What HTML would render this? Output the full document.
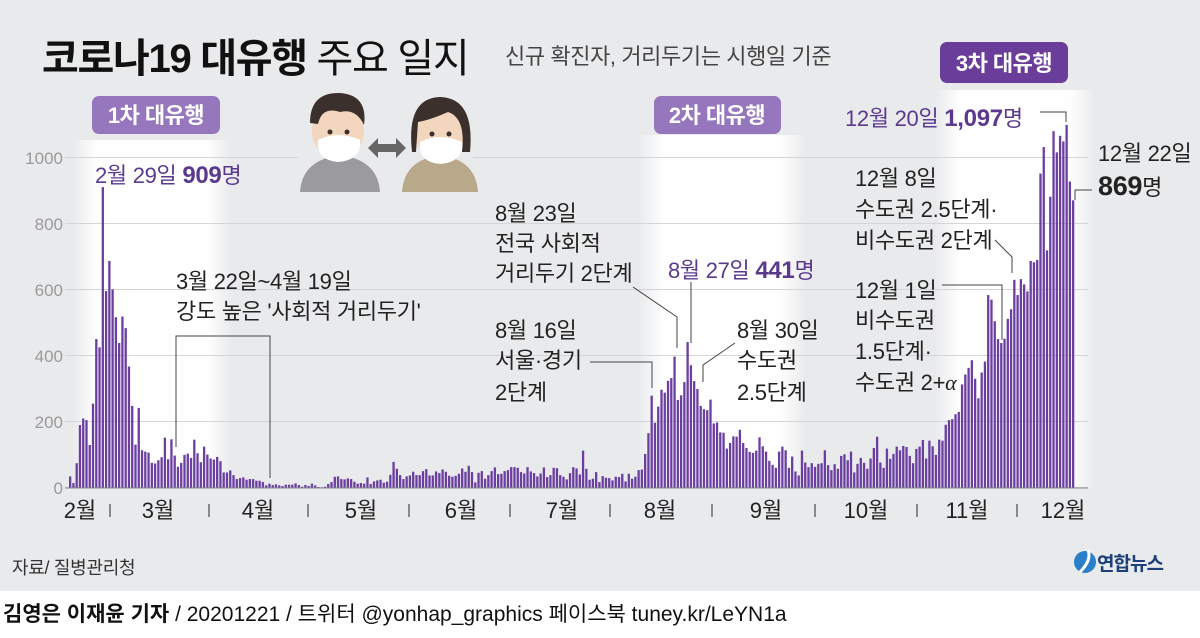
<!DOCTYPE html>
<html><head><meta charset="utf-8">
<style>
html,body{margin:0;padding:0;}
body{width:1200px;height:633px;overflow:hidden;background:#fff;font-family:"Liberation Sans","Noto Sans CJK KR",sans-serif;}
svg text{font-family:"Liberation Sans","Noto Sans CJK KR",sans-serif;}
</style></head><body>
<svg id="c" width="1200" height="633" viewBox="0 0 1200 633" xmlns="http://www.w3.org/2000/svg">
<defs>
<linearGradient id="hb" x1="0" x2="1" y1="0" y2="0">
<stop offset="0" stop-color="#fff" stop-opacity="0"/>
<stop offset="0.15" stop-color="#fff" stop-opacity="1"/>
<stop offset="0.85" stop-color="#fff" stop-opacity="1"/>
<stop offset="1" stop-color="#fff" stop-opacity="0"/>
</linearGradient>
</defs>
<rect x="0" y="0" width="1200" height="591" fill="#e9eaec"/>
<rect x="0" y="591" width="1200" height="42" fill="#fff"/>
<rect x="72" y="140" width="160" height="348" fill="url(#hb)" opacity="0.95"/>
<rect x="638" y="135" width="168" height="353" fill="url(#hb)" opacity="0.95"/>
<rect x="935" y="90" width="160" height="398" fill="url(#hb)" opacity="0.95"/>
<g stroke="#d4d5d8" stroke-width="1">
<line x1="65" x2="1088" y1="157.5" y2="157.5"/>
<line x1="65" x2="1088" y1="223.5" y2="223.5"/>
<line x1="65" x2="1088" y1="289.5" y2="289.5"/>
<line x1="65" x2="1088" y1="355.5" y2="355.5"/>
<line x1="65" x2="1088" y1="421.5" y2="421.5"/>
<line x1="65" x2="1088" y1="487.5" y2="487.5"/>
</g>
<g fill="#9a9a9a" font-size="17" text-anchor="end">
<text x="63" y="164">1000</text><text x="63" y="230">800</text><text x="63" y="296">600</text>
<text x="63" y="362">400</text><text x="63" y="428">200</text><text x="63" y="494">0</text>
</g>
<g id="bars" fill="#6b3fa0"></g>
<line x1="65" x2="1088" y1="488" y2="488" stroke="#888" stroke-width="1"/>
<g fill="#222" font-size="22" text-anchor="middle">
<text x="80" y="518">2월</text><text x="158" y="518">3월</text><text x="258" y="518">4월</text>
<text x="361" y="518">5월</text><text x="461" y="518">6월</text><text x="562" y="518">7월</text>
<text x="660" y="518">8월</text><text x="766" y="518">9월</text><text x="866" y="518">10월</text>
<text x="967" y="518">11월</text><text x="1063" y="518">12월</text>
</g>
<g stroke="#555" stroke-width="1.3">
<line x1="110" x2="110" y1="504" y2="517"/><line x1="209" x2="209" y1="504" y2="517"/>
<line x1="308" x2="308" y1="504" y2="517"/><line x1="409" x2="409" y1="504" y2="517"/>
<line x1="510" x2="510" y1="504" y2="517"/><line x1="610" x2="610" y1="504" y2="517"/>
<line x1="712" x2="712" y1="504" y2="517"/><line x1="815" x2="815" y1="504" y2="517"/>
<line x1="917" x2="917" y1="504" y2="517"/><line x1="1017" x2="1017" y1="504" y2="517"/>
</g>
<text x="42" y="72" font-size="40" fill="#111" letter-spacing="-1.3"><tspan font-weight="bold">코로나19 대유행</tspan> 주요 일지</text>
<text x="505" y="64" font-size="22" fill="#444" letter-spacing="-0.4">신규 확진자, 거리두기는 시행일 기준</text>
<rect x="92" y="96" width="128" height="38" rx="7" fill="#9676bd"/>
<text x="156" y="123" font-size="22" fill="#fff" text-anchor="middle" font-weight="bold" letter-spacing="-0.5">1차 대유행</text>
<rect x="654" y="96" width="127" height="38" rx="7" fill="#9676bd"/>
<text x="717" y="123" font-size="22" fill="#fff" text-anchor="middle" font-weight="bold" letter-spacing="-0.5">2차 대유행</text>
<rect x="940" y="42" width="128" height="41" rx="7" fill="#6a3d9a"/>
<text x="1004" y="71" font-size="22" fill="#fff" text-anchor="middle" font-weight="bold" letter-spacing="-0.5">3차 대유행</text>
<g>
<rect x="298" y="140" width="175" height="52" fill="#e9eaec"/>
<path d="M300 192 Q302 160 340 155 Q378 160 380 192 Z" fill="#9b9b9d"/>
<path d="M402 192 Q404 160 440 155 Q476 160 478 192 Z" fill="#b8a98a"/>
<ellipse cx="338" cy="131" rx="26" ry="28" fill="#f2d6bd"/>
<path d="M310 123 Q310 92 340 93 Q368 95 364 125 Q356 108 340 112 Q322 106 318 124 Z" fill="#3b302c"/>
<path d="M318 140 Q338 130 360 140 Q362 160 338 162 Q316 160 318 140 Z" fill="#fff"/>
<ellipse cx="440" cy="133" rx="25" ry="27" fill="#f2d6bd"/>
<path d="M412 152 Q406 98 440 97 Q475 98 470 152 L462 152 Q466 118 448 112 Q430 120 418 122 L416 152 Z" fill="#3b302c"/>
<path d="M420 142 Q440 132 462 142 Q464 162 440 164 Q418 162 420 142 Z" fill="#fff"/>
<circle cx="330" cy="132" r="2.5" fill="#3b302c"/><circle cx="347" cy="132" r="2.5" fill="#3b302c"/>
<circle cx="432" cy="134" r="2.5" fill="#3b302c"/><circle cx="449" cy="134" r="2.5" fill="#3b302c"/>
<path d="M368 148 L378 138 L378 144 L396 144 L396 138 L406 148 L396 158 L396 152 L378 152 L378 158 Z" fill="#666"/>
</g>
<g font-size="22" fill="#222" letter-spacing="-0.3">
<text x="95" y="183" fill="#5b3a8e">2월 29일 <tspan font-weight="bold" font-size="24">909</tspan>명</text>
<text x="176" y="289">3월 22일~4월 19일</text>
<text x="176" y="319">강도 높은 '사회적 거리두기'</text>
<text x="495" y="221">8월 23일</text>
<text x="495" y="251">전국 사회적</text>
<text x="495" y="281">거리두기 2단계</text>
<text x="495" y="338">8월 16일</text>
<text x="495" y="368">서울·경기</text>
<text x="495" y="400">2단계</text>
<text x="668" y="278" fill="#5b3a8e">8월 27일 <tspan font-weight="bold" font-size="24">441</tspan>명</text>
<text x="737" y="338">8월 30일</text>
<text x="737" y="368">수도권</text>
<text x="737" y="400">2.5단계</text>
<text x="845" y="126" fill="#5b3a8e">12월 20일 <tspan font-weight="bold" font-size="24">1,097</tspan>명</text>
<text x="1098" y="161">12월 22일</text>
<text x="1098" y="195"><tspan font-weight="bold" font-size="27">869</tspan>명</text>
<text x="855" y="186">12월 8일</text>
<text x="855" y="217">수도권 2.5단계·</text>
<text x="855" y="248">비수도권 2단계</text>
<text x="855" y="298">12월 1일</text>
<text x="855" y="328">비수도권</text>
<text x="855" y="359">1.5단계·</text>
<text x="855" y="390">수도권 2+<tspan font-style="italic" font-family="Liberation Serif, serif">α</tspan></text>
</g>
<g stroke="#444" stroke-width="1" fill="none">
<polyline points="176,447 176,336 270,336 270,478"/>
<polyline points="590,362 652,362 652,388"/>
<polyline points="633,287 677,317 677,348"/>
<polyline points="691,282 691,343"/>
<polyline points="735,343 703,365 703,382"/>
<polyline points="942,285 1002,285 1002,340"/>
<polyline points="995,240 1012,257 1012,273"/>
<polyline points="1040,112 1066,112 1066,122"/>
<polyline points="1092,190 1075,190 1075,200"/>
</g>
<text x="12" y="574" font-size="18" fill="#333" letter-spacing="-0.3">자료/ 질병관리청</text>
<circle cx="1085" cy="562" r="11" fill="#2a7fc8"/>
<path d="M1080 572 Q1092 560 1088 550" stroke="#fff" stroke-width="3" fill="none"/>
<text x="1097" y="570" font-size="19" font-weight="bold" fill="#1d3f7a" letter-spacing="-1">연합뉴스</text>
<text x="3" y="621" font-size="21" fill="#111" letter-spacing="0"><tspan font-weight="bold">김영은 이재윤 기자</tspan> / 20201221 / 트위터 @yonhap_graphics  페이스북 tuney.kr/LeYN1a</text>
</svg>
<script>
var d=[35,15,75,190,210,205,130,255,450,425,909,
595,686,600,516,438,518,483,367,248,131,242,114,110,107,76,74,84,93,152,87,147,98,64,76,100,104,91,146,105,78,125,
101,89,86,94,81,47,47,53,39,27,30,32,25,27,27,22,22,18,8,13,9,11,8,6,10,10,10,14,9,4,
9,6,13,8,3,2,4,12,18,34,35,27,26,29,27,19,13,15,13,32,12,20,23,25,16,19,40,79,58,39,27,
35,38,49,39,39,51,57,38,38,50,45,56,49,37,34,37,43,59,49,67,48,17,46,51,28,39,51,62,42,43,
51,54,63,63,61,48,44,63,50,45,35,44,62,33,39,61,60,39,34,26,45,63,59,41,113,58,25,28,48,18,36,
31,30,23,34,33,43,20,43,28,34,54,56,103,166,279,197,246,297,288,324,332,397,266,280,320,441,371,323,299,248,238,
235,267,195,198,168,167,119,136,156,155,176,136,121,109,106,113,153,126,110,82,70,61,110,125,114,61,95,50,38,113,
77,63,75,64,73,75,114,69,54,72,58,97,102,84,110,47,73,91,76,58,89,121,155,77,61,119,88,103,125,114,127,
124,97,75,118,125,145,89,143,126,100,146,143,191,205,208,223,230,313,343,363,386,330,271,349,382,583,569,504,450,438,
451,511,540,629,583,631,615,594,686,682,689,950,1030,718,880,1078,1014,1064,1047,1097,926,869];
var g=document.getElementById('bars'),n=d.length,x0=69,x1=1072,st=(x1-x0)/(n-1),s='';
for(var i=0;i<n;i++){var h=d[i]*0.331;s+='<rect x="'+(x0+i*st).toFixed(2)+'" y="'+(488-h).toFixed(2)+'" width="2.3" height="'+h.toFixed(2)+'"/>';}
g.innerHTML=s;
</script>
</body></html>
